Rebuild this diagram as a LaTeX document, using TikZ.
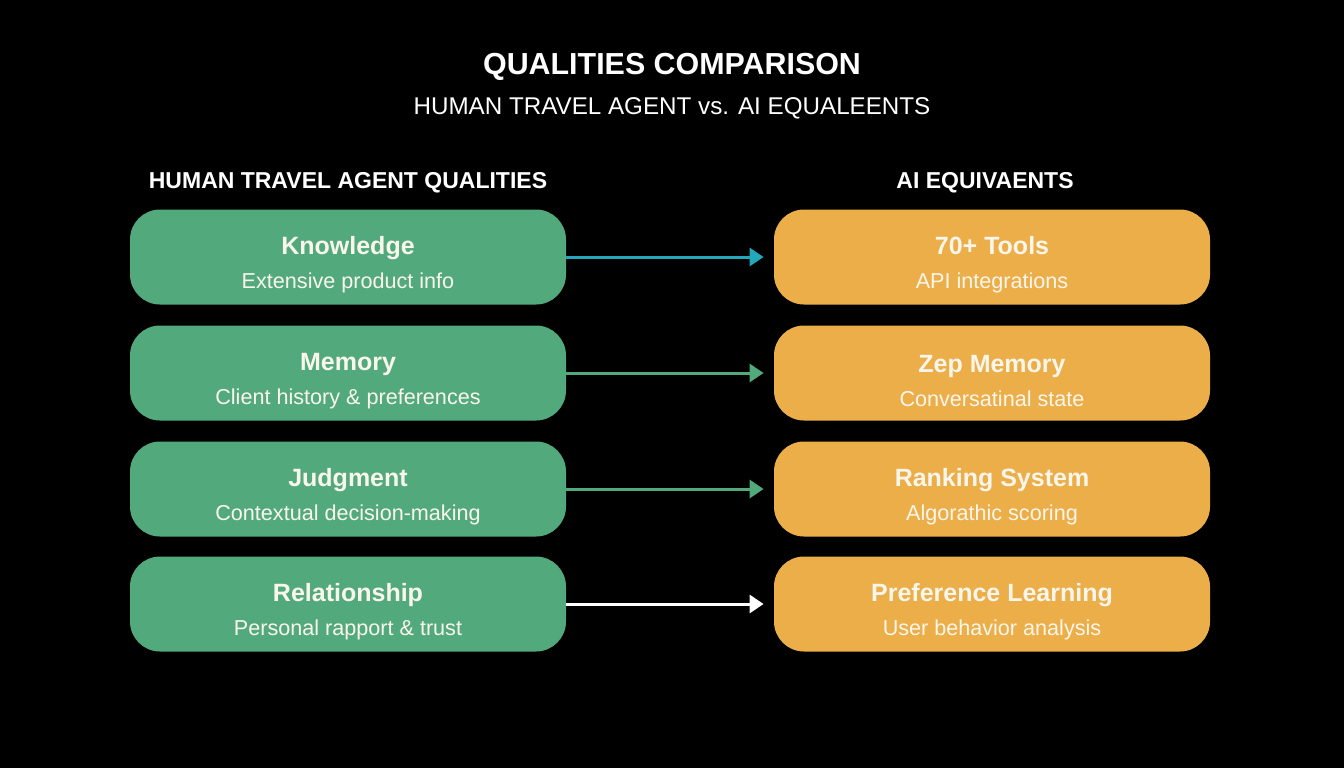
\documentclass[tikz,border=0pt]{standalone}
\usepackage{fontspec}
\setmainfont{Liberation Sans}
\usepackage[svgnames, dvipsnames]{xcolor}
\usetikzlibrary{calc, arrows.meta}
\definecolor{humangreen}{RGB}{82,170,124}
\definecolor{aiorange}{RGB}{236,174,72}
\definecolor{linkteal}{RGB}{34,168,186}
\definecolor{boxtext}{RGB}{250,246,236}
\newcommand{\boxheadfont}{\rule{0pt}{17pt}\fontsize{12.5}{14}\selectfont\bfseries}
\newcommand{\boxsubfont}{\fontsize{10.8}{12}\selectfont}
\tikzset{>=latex}

\begin{document}
\begin{tikzpicture}[x=0.5pt, y=-0.5pt,
  qualbox/.style={rounded corners=15pt, minimum width=218pt, minimum height=47.5pt, inner sep=0pt, align=center, text=boxtext},
  humanbox/.style={qualbox, fill=humangreen},
  aibox/.style={qualbox, fill=aiorange},
  link/.style={line width=1.5pt, -{Triangle[length=7pt, width=9pt]}, shorten >=5pt}]
\useasboundingbox[fill=black] (0,0) rectangle (1344,768);
\node[text=white, font=\fontsize{15.2}{18}\selectfont\bfseries] (title) at (672,67) {QUALITIES COMPARISON};
\node[text=white, font=\fontsize{12.1}{15}\selectfont] (subtitle) at (672,108) {HUMAN TRAVEL AGENT vs. AI EQUALEENTS};
\node[text=white, font=\fontsize{11.5}{14}\selectfont\bfseries] (humanhead) at (348,183) {HUMAN TRAVEL AGENT QUALITIES};
\node[text=white, font=\fontsize{11.5}{14}\selectfont\bfseries] (aihead) at (985,183) {AI EQUIVAENTS};
% human side
\node[humanbox] (human1) at (348,257) {{\boxheadfont Knowledge}\\[5pt]{\boxsubfont Extensive product info}};
\node[humanbox] (human2) at (348,373) {{\boxheadfont Memory}\\[5pt]{\boxsubfont Client history \& preferences}};
\node[humanbox] (human3) at (348,489) {{\boxheadfont Judgment}\\[5pt]{\boxsubfont Contextual decision-making}};
\node[humanbox] (human4) at (348,604) {{\boxheadfont Relationship}\\[5pt]{\boxsubfont Personal rapport \& trust}};
% ai side
\node[aibox] (ai1) at (992,257) {{\boxheadfont 70+ Tools}\\[5pt]{\boxsubfont API integrations}};
\node[aibox] (ai2) at (992,373) {{\boxheadfont Zep Memory}\\[5pt]{\boxsubfont Conversatinal state}};
\node[aibox] (ai3) at (992,489) {{\boxheadfont Ranking System}\\[5pt]{\boxsubfont Algorathic scoring}};
\node[aibox] (ai4) at (992,604) {{\boxheadfont Preference Learning}\\[5pt]{\boxsubfont User behavior analysis}};
% links
\draw[link, linkteal] (human1) -- (ai1);
\draw[link, humangreen] (human2) -- (ai2);
\draw[link, humangreen] (human3) -- (ai3);
\draw[link, white] (human4) -- (ai4);
\end{tikzpicture}
\end{document}
